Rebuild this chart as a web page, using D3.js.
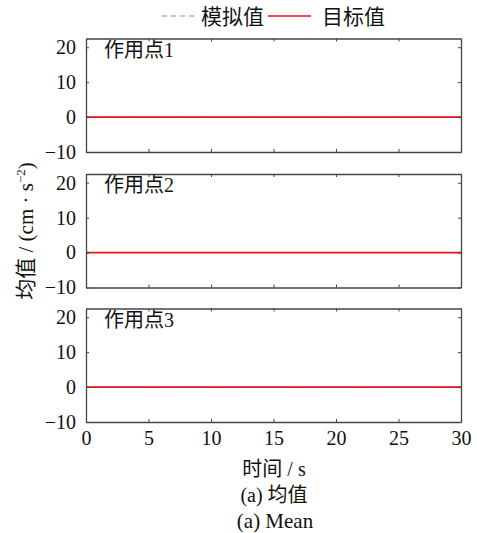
<!DOCTYPE html>
<html>
<head>
<meta charset="utf-8">
<script src="https://cdn.jsdelivr.net/npm/d3@7"></script>
<style>
body { margin: 0; background: #fff; }
text { fill: #111; }
.lat { font-family: "Liberation Serif", "Times New Roman", serif; }
.cjk { font-family: "Noto Sans CJK SC", sans-serif; }
</style>
</head>
<body>
<div id="chart"></div>
<script>
// data: every curve sits flat at zero
const panels = ["作用点", "作用点", "作用点"];
const panelNums = ["1", "2", "3"];
const time = [0, 5, 10, 15, 20, 25, 30];
const simulated = [
    [0, 0, 0, 0, 0, 0, 0],
    [0, 0, 0, 0, 0, 0, 0],
    [0, 0, 0, 0, 0, 0, 0]
];
const target = [
    [0, 0, 0, 0, 0, 0, 0],
    [0, 0, 0, 0, 0, 0, 0],
    [0, 0, 0, 0, 0, 0, 0]
];
const xTicks = [0, 5, 10, 15, 20, 25, 30];
const yTicks = [-10, 0, 10, 20];

const width = 477, height = 533;
const left = 86, right = 461;
const tops = [38.5, 174, 308.5];
const panelH = 113.5;

const svg = d3.select("#chart").append("svg")
    .attr("width", width)
    .attr("height", height);

const x = d3.scaleLinear().domain([0, 30]).range([left, right]);

panels.forEach((name, i) => {
    const y = d3.scaleLinear().domain([-10, 22.5]).range([tops[i] + panelH, tops[i]]);
    const g = svg.append("g");

    const line = d3.line().x((d, k) => x(time[k])).y(d => y(d));

    g.append("path").datum(simulated[i])
        .attr("d", line).attr("fill", "none")
        .attr("stroke", "#8080f0").attr("stroke-width", 1).attr("stroke-dasharray", "5,4");
    g.append("path").datum(target[i])
        .attr("d", line).attr("fill", "none")
        .attr("stroke", "#e8141c").attr("stroke-width", 1.6);

    // axes with inward ticks on all four sides
    const axL = g.append("g").attr("transform", `translate(${left},0)`)
        .call(d3.axisLeft(y).tickValues(yTicks).tickSizeInner(-3).tickSizeOuter(0).tickPadding(10)
            .tickFormat(d => d < 0 ? "\u2212" + Math.abs(d) : d));
    const axR = g.append("g").attr("transform", `translate(${right},0)`)
        .call(d3.axisRight(y).tickValues(yTicks).tickSizeInner(-3).tickSizeOuter(0).tickFormat(""));
    const axT = g.append("g").attr("transform", `translate(0,${tops[i]})`)
        .call(d3.axisTop(x).tickValues(xTicks).tickSizeInner(-3).tickSizeOuter(0).tickFormat(""));
    const axB = g.append("g").attr("transform", `translate(0,${tops[i] + panelH})`)
        .call(d3.axisBottom(x).tickValues(xTicks).tickSizeInner(-3).tickSizeOuter(0).tickPadding(9)
            .tickFormat(i === 2 ? d => d : ""));

    [axL, axR, axT, axB].forEach(a => {
        a.select(".domain").attr("stroke", "#444").attr("stroke-width", 1.3);
        a.selectAll(".tick line").attr("stroke", "#444");
        a.selectAll(".tick text").attr("class", "lat")
            .style("font-size", "20px").attr("fill", "#111");
    });

    const lab = g.append("text")
        .attr("x", left + 18).attr("y", tops[i] + 18)
        .style("font-size", "20px");
    lab.append("tspan").attr("class", "cjk").text(name);
    lab.append("tspan").attr("class", "lat").text(panelNums[i]);
});

// legend
const lg = svg.append("g");
lg.append("line").attr("x1", 162).attr("x2", 194).attr("y1", 16).attr("y2", 16)
    .attr("stroke", "#8080f0").attr("stroke-width", 1.2).attr("stroke-dasharray", "5,4");
lg.append("text").attr("class", "cjk").attr("x", 201).attr("y", 24)
    .style("font-size", "21px").text("模拟值");
lg.append("line").attr("x1", 268).attr("x2", 311).attr("y1", 16).attr("y2", 16)
    .attr("stroke", "#e8141c").attr("stroke-width", 1.6);
lg.append("text").attr("class", "cjk").attr("x", 322).attr("y", 24)
    .style("font-size", "21px").text("目标值");

// axis titles
const yl = svg.append("text")
    .attr("transform", "translate(33,231) rotate(-90)")
    .attr("text-anchor", "middle")
    .style("font-size", "21px");
yl.append("tspan").attr("class", "cjk").text("均值");
yl.append("tspan").attr("class", "lat").text(" / (cm · s");
yl.append("tspan").attr("class", "lat").style("font-size", "13px").attr("dy", -8).text("\u22122");
yl.append("tspan").attr("class", "lat").attr("dy", 8).text(")");

const xl = svg.append("text").attr("x", 274).attr("y", 476).attr("text-anchor", "middle")
    .style("font-size", "20px");
xl.append("tspan").attr("class", "cjk").text("时间");
xl.append("tspan").attr("class", "lat").text(" / s");

const cap = svg.append("text").attr("x", 274).attr("y", 502).attr("text-anchor", "middle")
    .style("font-size", "20px");
cap.append("tspan").attr("class", "lat").text("(a) ");
cap.append("tspan").attr("class", "cjk").text("均值");

svg.append("text").attr("class", "lat").attr("x", 275).attr("y", 528).attr("text-anchor", "middle")
    .style("font-size", "21px").text("(a) Mean");
</script>
</body>
</html>
